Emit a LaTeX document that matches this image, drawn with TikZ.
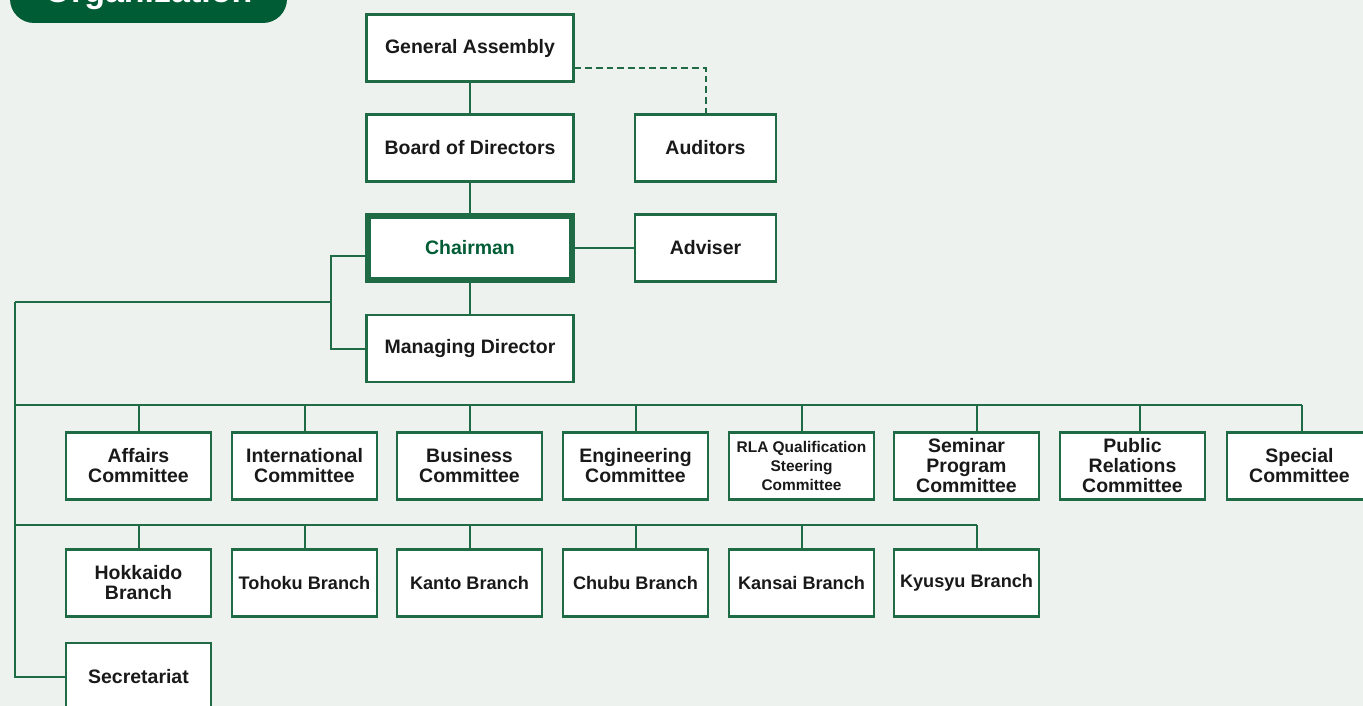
\documentclass[tikz,border=0pt]{standalone}
\usepackage{fontspec}
\setmainfont{Liberation Sans}
\usepackage{xcolor}
\usetikzlibrary{calc, positioning}

\definecolor{orgbg}{HTML}{EDF2EE}
\definecolor{orggreen}{HTML}{1E6B45}
\definecolor{orgdark}{HTML}{005C35}

\begin{document}
\begin{tikzpicture}[x=0.75pt, y=-0.75pt,
  box/.style={draw=orggreen, line width=1.9pt, fill=white, minimum height=50pt,
    inner sep=1pt, align=center, text=black!90,
    font=\bfseries\fontsize{14.6}{15}\selectfont},
  mainbox/.style={box, minimum width=155pt},
  sidebox/.style={box, minimum width=106pt},
  unitbox/.style={box, minimum width=109pt},
  link/.style={orggreen, line width=1.5pt},
  every node/.style={font=\small}]

\useasboundingbox (0,0) rectangle (1363,706);
\clip (0,0) rectangle (1363,706);
\fill[orgbg] (0,0) rectangle (1363,706);

% ------------------------------------------------------------------
% TITLE BADGE (cut by the top edge)
% ------------------------------------------------------------------
\fill[orgdark, rounded corners=18pt] (10,-60) rectangle (287,23);
\node[anchor=base, text=white, inner sep=0pt,
      font=\bfseries\fontsize{25.5}{26}\selectfont] (title) at (148.5,3) {Organization};

% ------------------------------------------------------------------
% MAIN COLUMN
% ------------------------------------------------------------------
\node[mainbox] (ga)    at (470,48)    {General Assembly};
\node[mainbox] (bod)   at (470,148)   {Board of Directors};
\node[sidebox] (aud)   at (705.5,148) {Auditors};
\node[mainbox, line width=3.8pt, minimum width=153pt, minimum height=48pt,
      text=orgdark] (chair) at (470,248) {Chairman};
\node[sidebox] (adv)   at (705.5,248) {Adviser};
\node[mainbox] (md)    at (470,348.5) {Managing Director};

\draw[link] (ga) -- (bod);
\draw[link] (bod) -- (chair);
\draw[link] (chair) -- (md);
\draw[link] (chair) -- (adv);
\draw[link, dashed, dash pattern=on 5pt off 3pt]
  ($(ga.east)+(0,20)$) -| (aud.north);

% ------------------------------------------------------------------
% LEFT TRUNK
% ------------------------------------------------------------------
\coordinate (ck) at (331,302);
\coordinate (ctop) at (15,302);
\coordinate (cbus) at (15,405);
\coordinate (bbus) at (15,525);
\draw[link] ($(chair.west)+(0,8)$) -| (ck) |- (md.west);
\draw[link] (ck) -- (ctop);

% ------------------------------------------------------------------
% COMMITTEES
% ------------------------------------------------------------------
\foreach \n/\x/\t in {c1/138.5/{Affairs\\Committee},
                      c2/304.5/{International\\Committee},
                      c3/469.5/{Business\\Committee},
                      c4/635.5/{Engineering\\Committee},
                      c5/801.5/{},
                      c6/966.5/{Seminar\\Program\\Committee},
                      c7/1132.5/{Public\\Relations\\Committee},
                      c8/1299.5/{Special\\Committee}} {
  \node[unitbox] (\n) at (\x,466) {\t};
}
\node[align=center, font=\bfseries\fontsize{11.6}{14}\selectfont, text=black!90]
  (rla) at (c5) {RLA Qualification\\Steering\\Committee};

\foreach \n/\dx in {c1/0, c2/0, c3/0.5, c4/0, c5/0, c6/10.5, c7/7.5, c8/2} {
  \coordinate (d\n) at ($(\n.north)+(\dx,0)$);
  \draw[link] (d\n) -- (d\n |- cbus);
}
\draw[link] (cbus) -- (cbus -| dc8);

% ------------------------------------------------------------------
% BRANCHES
% ------------------------------------------------------------------
\node[unitbox] (b1) at (138.5,583) {Hokkaido\\Branch};
\foreach \n/\x/\t in {b2/304.5/{Tohoku Branch},
                      b3/469.5/{Kanto Branch},
                      b4/635.5/{Chubu Branch},
                      b5/801.5/{Kansai Branch},
                      b6/966.5/{Kyusyu Branch}} {
  \node[unitbox, font=\bfseries\fontsize{13.6}{15}\selectfont] (\n) at (\x,583) {\t};
}

\foreach \n/\dx in {b1/0, b2/0, b3/0.5, b4/0, b5/0, b6/10.5} {
  \coordinate (d\n) at ($(\n.north)+(\dx,0)$);
  \draw[link] (d\n) -- (d\n |- bbus);
}
\draw[link] (bbus) -- (bbus -| db6);

% ------------------------------------------------------------------
% SECRETARIAT
% ------------------------------------------------------------------
\node[unitbox] (sec) at (138.5,676.5) {Secretariat};
\draw[link] (ctop) |- (sec.west);

\end{tikzpicture}
\end{document}
